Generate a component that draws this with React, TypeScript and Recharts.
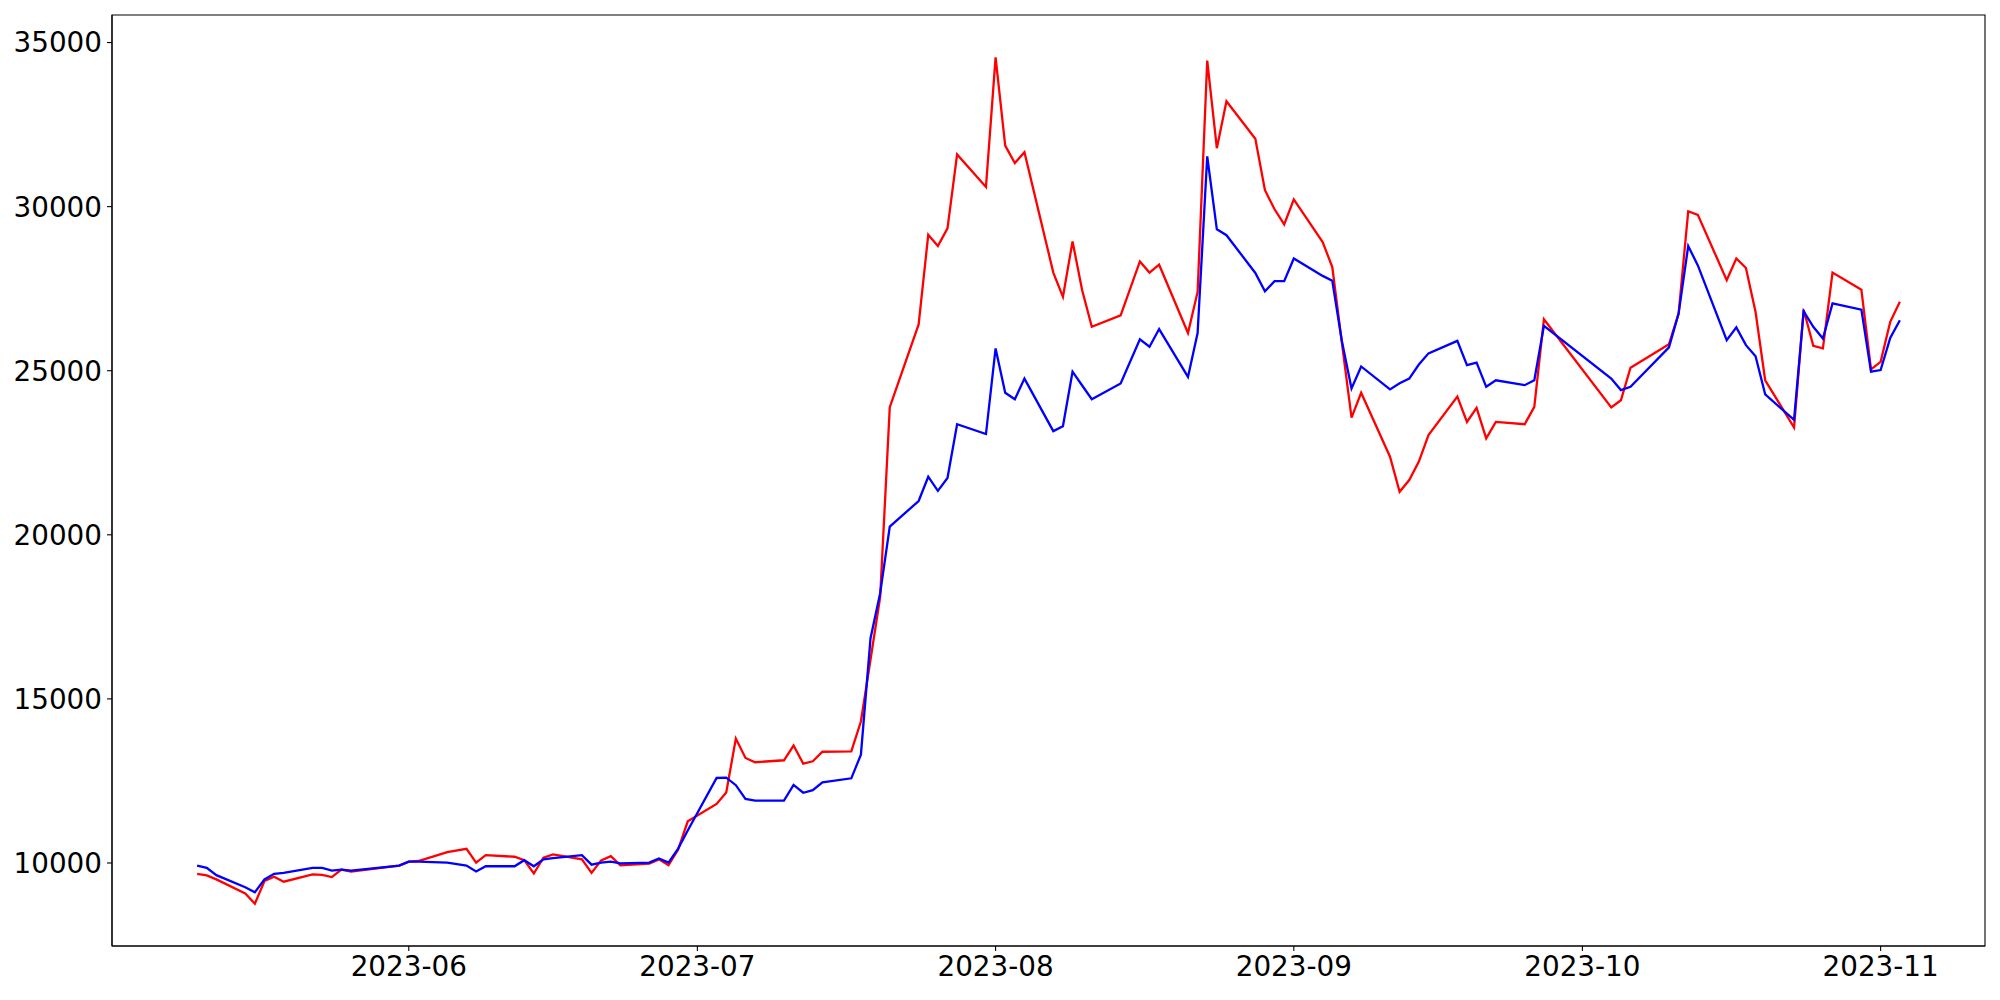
import React from 'react';
import { LineChart, Line, XAxis, YAxis, ReferenceArea } from 'recharts';

const dates = [
  '2023-05-10', '2023-05-11', '2023-05-12', '2023-05-15', '2023-05-16', '2023-05-17', '2023-05-18', '2023-05-19',
  '2023-05-22', '2023-05-23', '2023-05-24', '2023-05-25', '2023-05-26', '2023-05-31', '2023-06-01', '2023-06-02',
  '2023-06-05', '2023-06-07', '2023-06-08', '2023-06-09', '2023-06-12', '2023-06-13', '2023-06-14', '2023-06-15',
  '2023-06-16', '2023-06-19', '2023-06-20', '2023-06-21', '2023-06-22', '2023-06-23', '2023-06-26', '2023-06-27',
  '2023-06-28', '2023-06-29', '2023-06-30', '2023-07-03', '2023-07-04', '2023-07-05', '2023-07-06', '2023-07-07',
  '2023-07-10', '2023-07-11', '2023-07-12', '2023-07-13', '2023-07-14', '2023-07-17', '2023-07-18', '2023-07-19',
  '2023-07-20', '2023-07-21', '2023-07-24', '2023-07-25', '2023-07-26', '2023-07-27', '2023-07-28', '2023-07-31',
  '2023-08-01', '2023-08-02', '2023-08-03', '2023-08-04', '2023-08-07', '2023-08-08', '2023-08-09', '2023-08-10',
  '2023-08-11', '2023-08-14', '2023-08-16', '2023-08-17', '2023-08-18', '2023-08-21', '2023-08-22', '2023-08-23',
  '2023-08-24', '2023-08-25', '2023-08-28', '2023-08-29', '2023-08-30', '2023-08-31', '2023-09-01', '2023-09-04',
  '2023-09-05', '2023-09-06', '2023-09-07', '2023-09-08', '2023-09-11', '2023-09-12', '2023-09-13', '2023-09-14',
  '2023-09-15', '2023-09-18', '2023-09-19', '2023-09-20', '2023-09-21', '2023-09-22', '2023-09-25', '2023-09-26',
  '2023-09-27', '2023-10-04', '2023-10-05', '2023-10-06', '2023-10-10', '2023-10-11', '2023-10-12', '2023-10-13',
  '2023-10-16', '2023-10-17', '2023-10-18', '2023-10-19', '2023-10-20', '2023-10-23', '2023-10-24', '2023-10-25',
  '2023-10-26', '2023-10-27', '2023-10-30', '2023-10-31', '2023-11-01', '2023-11-02', '2023-11-03',
];

const redValues = [
  9670, 9620, 9500, 9070, 8760, 9450, 9580, 9430,
  9650, 9640, 9570, 9800, 9740, 9920, 10040, 10060,
  10330, 10430, 10010, 10240, 10190, 10085, 9680, 10160,
  10260, 10110, 9700, 10080, 10210, 9930, 9980, 10110,
  9930, 10410, 11270, 11800, 12150, 13790, 13200, 13070,
  13130, 13580, 13030, 13100, 13390, 13400, 14310, 16200,
  18100, 23890, 26410, 29140, 28800, 29340, 31590, 30600,
  34550, 31860, 31330, 31660, 27990, 27250, 28940, 27450,
  26340, 26690, 28330, 27990, 28230, 26150, 27400, 34450,
  31780, 33210, 32070, 30500, 29920, 29460, 30220, 28920,
  28160, 25850, 23570, 24330, 22380, 21310, 21670, 22230,
  23040, 24210, 23440, 23870, 22940, 23440, 23370, 23900,
  26570, 23880, 24100, 25090, 25810, 26740, 29860, 29750,
  27760, 28420, 28130, 26790, 24710, 23270, 26860, 25760,
  25680, 27990, 27470, 25040, 25270, 26490, 27100,
];

const blueValues = [
  9920, 9850, 9630, 9260, 9110, 9500, 9670, 9700,
  9850, 9850, 9770, 9800, 9770, 9920, 10040, 10040,
  10010, 9920, 9740, 9900, 9900, 10085, 9900, 10110,
  10150, 10240, 9950, 10010, 10040, 9990, 10010, 10140,
  10010, 10440, 10990, 12590, 12600, 12370, 11950, 11900,
  11900, 12380, 12140, 12220, 12460, 12580, 13300, 16850,
  18220, 20250, 21030, 21770, 21340, 21730, 23370, 23070,
  25680, 24330, 24130, 24760, 23160, 23310, 24970, 24550,
  24130, 24610, 25960, 25730, 26270, 24810, 26150, 31530,
  29310, 29130, 27980, 27420, 27730, 27730, 28420, 27890,
  27740, 25900, 24460, 25130, 24430, 24620, 24760, 25190,
  25530, 25910, 25170, 25250, 24510, 24710, 24560, 24710,
  26370, 24760, 24410, 24510, 25710, 26740, 28800, 28210,
  25930, 26320, 25780, 25440, 24280, 23500, 26810, 26340,
  25980, 27050, 26860, 24970, 25020, 26000, 26540,
];

const monthTicks = ['2023-06-01', '2023-07-01', '2023-08-01', '2023-09-01', '2023-10-01', '2023-11-01'];
const yTicks = [10000, 15000, 20000, 25000, 30000, 35000];

const toTs = (s: string) => {
  const [y, m, d] = s.split('-').map(Number);
  return Date.UTC(y, m - 1, d);
};

const fmtMonth = (t: number) => {
  const d = new Date(t);
  return `${d.getUTCFullYear()}-${String(d.getUTCMonth() + 1).padStart(2, '0')}`;
};

const data = dates.map((d, i) => ({ t: toTs(d), red: redValues[i], blue: blueValues[i] }));

// matplotlib-style 5% margins
const tMin = data[0].t;
const tMax = data[data.length - 1].t;
const tPad = (tMax - tMin) * 0.05;
const xDomain = [tMin - tPad, tMax + tPad];

const allVals = [...redValues, ...blueValues];
const vMin = Math.min(...allVals);
const vMax = Math.max(...allVals);
const vPad = (vMax - vMin) * 0.05;
const yDomain = [vMin - vPad, vMax + vPad];

const tickStyle = { fill: '#000', fontSize: 27.8, fontFamily: 'DejaVu Sans' };

export default function App() {
  return (
    <div style={{ position: 'absolute', left: 0, top: 0, width: 2000, height: 1000, background: '#fff' }}>
      <LineChart width={2000} height={1000} data={data} margin={{ top: 15, right: 15, bottom: 0, left: 0 }}>
        <XAxis
          dataKey="t"
          type="number"
          domain={xDomain}
          allowDataOverflow
          ticks={monthTicks.map(toTs)}
          tickFormatter={fmtMonth}
          height={54}
          tick={tickStyle}
          tickSize={5}
          tickMargin={5}
          stroke="#000"
          tickLine={{ stroke: '#000', strokeWidth: 1.1 }}
          axisLine={{ stroke: '#000', strokeWidth: 1.1 }}
        />
        <YAxis
          type="number"
          domain={yDomain}
          allowDataOverflow
          ticks={yTicks}
          width={112}
          tick={tickStyle}
          tickSize={5}
          tickMargin={5}
          stroke="#000"
          tickLine={{ stroke: '#000', strokeWidth: 1.1 }}
          axisLine={{ stroke: '#000', strokeWidth: 1.1 }}
        />
        <Line type="linear" dataKey="red" stroke="#ff0000" strokeWidth={2.3} dot={false} activeDot={false} isAnimationActive={false} />
        <Line type="linear" dataKey="blue" stroke="#0000ff" strokeWidth={2.3} dot={false} activeDot={false} isAnimationActive={false} />
        <ReferenceArea
          x1={xDomain[0]}
          x2={xDomain[1]}
          y1={yDomain[0]}
          y2={yDomain[1]}
          fill="none"
          fillOpacity={0}
          stroke="#000"
          strokeWidth={1.1}
          ifOverflow="visible"
        />
      </LineChart>
    </div>
  );
}
